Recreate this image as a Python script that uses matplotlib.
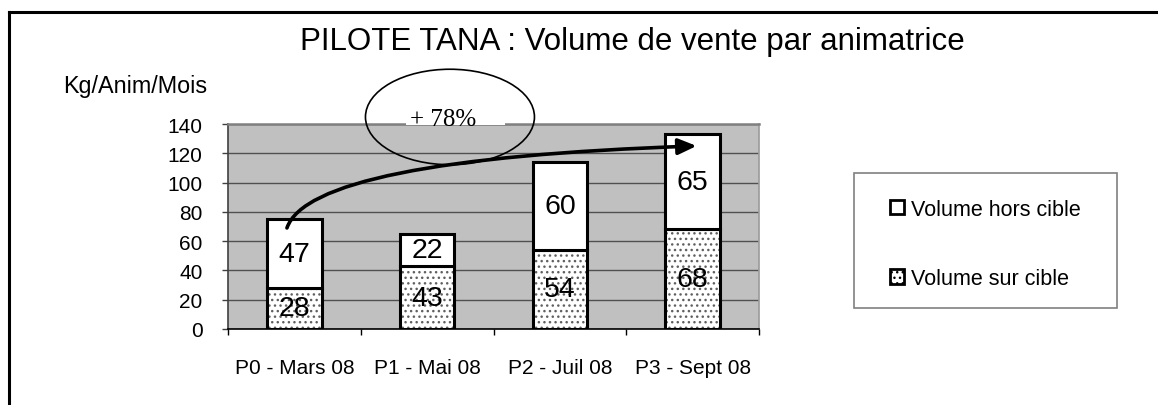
import matplotlib
matplotlib.use("Agg")
import matplotlib.pyplot as plt
from matplotlib.patches import Ellipse, Rectangle, Patch, FancyArrowPatch
from matplotlib.path import Path
from matplotlib.lines import Line2D

plt.rcParams['font.family'] = ['Liberation Sans', 'DejaVu Sans']
plt.rcParams['hatch.linewidth'] = 1.0

# data
periods = ['P0 - Mars 08', 'P1 - Mai 08', 'P2 - Juil 08', 'P3 - Sept 08']
sur_cible = [28, 43, 54, 68]
hors_cible = [47, 22, 60, 65]
growth_label = '+ 78%'

W, H = 1158, 406
fig = plt.figure(figsize=(W / 100, H / 100), dpi=100)
ax = fig.add_axes([228 / W, 1 - 330 / H, 531 / W, 205 / H])

x = list(range(len(periods)))
bw = 0.41

ax.set_facecolor('#c0c0c0')
ax.set_axisbelow(True)
ax.yaxis.grid(True, color='#505050', lw=1.0)

# hatched lower part (dots), then outlines on top
ax.bar(x, sur_cible, width=bw, color='white', edgecolor='#606060', hatch='...', lw=0, zorder=2)
ax.bar(x, sur_cible, width=bw, fill=False, edgecolor='black', lw=2.2, zorder=3)
ax.bar(x, hors_cible, width=bw, bottom=sur_cible, color='white', edgecolor='black', lw=2.2, zorder=3)

for i in x:
    ax.text(i, sur_cible[i] / 2, str(sur_cible[i]), ha='center', va='center', fontsize=20.5, zorder=4)
    ax.text(i, sur_cible[i] + hors_cible[i] / 2, str(hors_cible[i]), ha='center', va='center',
            fontsize=20.5, zorder=4)

ax.set_xlim(-0.5, len(periods) - 0.5)
ax.set_ylim(0, 140)
ax.set_yticks(range(0, 141, 20))
ax.tick_params(axis='y', length=4.3, width=1, pad=14, labelsize=15, color='#404040')

ax.set_xticks([i - 0.5 for i in range(len(periods) + 1)])
ax.set_xticklabels([])
ax.set_xticks(x, minor=True)
ax.set_xticklabels(periods, minor=True)
ax.tick_params(axis='x', which='major', length=4, width=1, color='black')
ax.tick_params(axis='x', which='minor', length=0, pad=21, labelsize=15)

ax.spines['top'].set_color('#808080')
ax.spines['top'].set_linewidth(1.8)
ax.spines['right'].set_color('#9a9a9a')
ax.spines['right'].set_linewidth(1.2)
ax.spines['left'].set_color('#404040')
ax.spines['left'].set_linewidth(1.2)
ax.spines['bottom'].set_color('black')
ax.spines['bottom'].set_linewidth(1.2)

# growth arrow
x0, y0 = -0.056, 69
x1, y1 = 3.03, 125
cx, cy = 0.12, 116
arrow = FancyArrowPatch(path=Path([(x0, y0), (cx, cy), (x1, y1)],
                                  [Path.MOVETO, Path.CURVE3, Path.CURVE3]),
                        arrowstyle='-|>,head_length=0.55,head_width=0.24',
                        mutation_scale=20, lw=2.6, color='black', zorder=6, clip_on=False)
ax.add_patch(arrow)

# ellipse annotation with label
ax.add_patch(Rectangle((0.84, 139.2), 0.75, 4, facecolor='white', edgecolor='none',
                       zorder=7, clip_on=False))
ax.text(1.12, 139.3, growth_label, ha='center', va='baseline', fontsize=18,
        family='Liberation Serif', zorder=8, clip_on=False)
ax.add_patch(Ellipse((1.172, 144.8), 1.273, 65.2, fill=False, edgecolor='black', lw=1.2,
                     zorder=9, clip_on=False))

# legend (frame drawn separately so its size can match)
handles = [Patch(facecolor='white', edgecolor='black', lw=2),
           Patch(facecolor='white', edgecolor='black', lw=2, hatch='...')]
leg = fig.legend(handles, ['Volume hors cible', 'Volume sur cible'],
                 loc='center', bbox_to_anchor=(985.5 / W, 1 - 245 / H),
                 fontsize=15.5, handlelength=0.65, handleheight=0.65, handletextpad=0.35,
                 labelspacing=2.25, borderpad=0.5, frameon=False)
fig.add_artist(Rectangle((854 / W, 1 - 309 / H), 263 / W, 135 / H, transform=fig.transFigure,
                         facecolor='none', edgecolor='#808080', lw=1.2))

# titles
fig.text(632 / W, 1 - 50 / H, 'PILOTE TANA : Volume de vente par animatrice',
         ha='center', va='baseline', fontsize=22.5)
fig.text(63 / W, 1 - 93 / H, 'Kg/Anim/Mois', ha='left', va='baseline', fontsize=16.8)

# outer frame (top and left edges)
fx = 8.5 / W
fy = 1 - 13 / H
fig.add_artist(Line2D([fx, 1], [fy, fy], transform=fig.transFigure, color='black', lw=2.2))
fig.add_artist(Line2D([fx, fx], [0, fy], transform=fig.transFigure, color='black', lw=2.2))

fig.savefig('out.png', dpi=100, facecolor='white')
